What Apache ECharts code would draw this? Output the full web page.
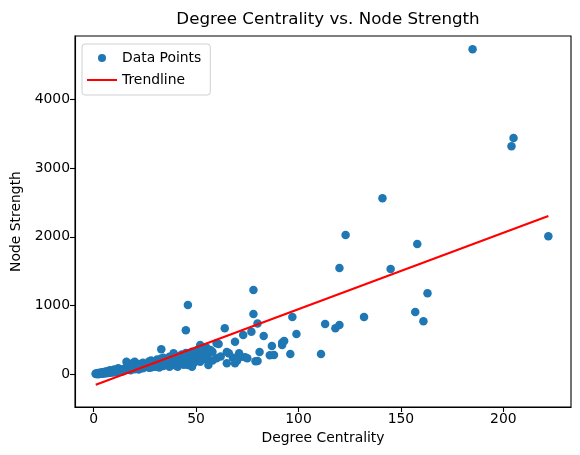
<!DOCTYPE html>
<html>
<head>
<meta charset="utf-8">
<script src="https://cdn.jsdelivr.net/npm/echarts@6/dist/echarts.min.js"></script>
<style>
  html, body { margin: 0; padding: 0; background: #fff; }
  #main { width: 580px; height: 455px; }
</style>
</head>
<body>
<div id="main"></div>
<script>
// 散点数据: [度中心性, 节点强度]
const degreeCentrality = [
  1, 1, 2, 2, 2, 3, 3, 3, 4, 4, 4, 5, 5, 5, 6, 6, 6, 7, 7, 7, 8, 8, 8, 9, 9, 10, 10, 10, 11, 11, 12, 12, 12, 13, 13, 14, 14, 15, 15,
  16, 16, 17, 17, 18, 18, 19, 19, 20, 20, 21, 21, 22, 22, 23, 23, 24, 24, 25, 26, 26, 27, 27, 28, 28, 29, 29, 30, 30,
  31, 31, 32, 32, 33, 33, 34, 34, 35, 35, 36, 36, 37, 38, 38, 39, 39, 40, 40, 41, 41, 42, 42, 42, 43, 44, 44, 45, 45, 46, 46, 46, 47, 47, 48, 48, 49, 49, 50, 50,
  24, 28, 31, 34, 37, 40, 43, 45, 48, 51, 53, 55, 58, 22, 27, 33, 38, 44, 51, 55,
  52, 52, 53, 54, 56, 56, 57, 58, 60, 60, 61, 62, 64, 65, 65, 66, 68, 69, 69, 70, 71, 72, 73, 74, 75, 77, 78, 78, 79, 80, 80,
  81, 83, 86, 87, 88, 92, 92, 93, 96, 97, 99, 111, 113, 118, 120, 120, 123, 132,
  141, 145, 157, 158, 161, 163, 185, 204, 205, 222
];
const nodeStrength = [
  5, 12, 3, 18, 8, 10, 22, 5, 15, 30, 8, 20, 12, 35, 25, 40, 15, 30, 50, 18, 35, 22, 60, 45, 28, 40, 70, 30, 55, 35, 60, 45, 90, 50, 75, 65, 40, 80, 55,
  183, 100, 70, 120, 85, 60, 160, 100, 183, 75, 110, 90, 130, 70, 100, 140, 90, 120, 110, 111, 150, 160, 95, 130, 100, 160, 115, 140, 110,
  125, 180, 150, 100, 364, 170, 135, 120, 180, 140, 200, 150, 111, 220, 160, 305, 180, 250, 130, 111, 200, 233, 208, 160, 180, 260, 140, 640, 200, 1008, 135, 250, 208, 160, 111, 280, 208, 170, 300, 240,
  170, 200, 215, 240, 255, 270, 290, 310, 330, 360, 300, 390, 330, 150, 185, 230, 260, 230, 250, 220,
  426, 183, 350, 270, 305, 135, 353, 200, 451, 233, 440, 260, 669, 324, 160, 305, 240, 475, 160, 198, 305, 256, 572, 247, 233, 620, 1226, 877, 189, 741, 193,
  324, 557, 276, 412, 281, 426, 460, 484, 295, 833, 586, 295, 732, 669, 717, 1546, 2026, 833,
  2560, 1532, 906, 1895, 771, 1178, 4727, 3316, 3437, 2007
];

// 趋势线 (线性拟合) 系数
const trendSlope = 11.1;
const trendIntercept = -162;

// 刻度
const xTicks = [0, 50, 100, 150, 200];
const yTicks = [0, 1000, 2000, 3000, 4000];

const points = degreeCentrality.map((x, i) => [x, nodeStrength[i]]);
const xMin = Math.min(...degreeCentrality);
const xMax = Math.max(...degreeCentrality);
const trendLine = [xMin, xMax].map(x => [x, trendSlope * x + trendIntercept]);

const FONT = 'DejaVu Sans';

const chart = echarts.init(document.getElementById('main'));

const option = {
  animation: false,
  backgroundColor: '#ffffff',
  textStyle: { fontFamily: FONT },
  title: {
    text: 'Degree Centrality vs. Node Strength',
    left: 323,
    top: 6,
    textAlign: 'center',
    textStyle: { fontFamily: FONT, fontSize: 16.7, fontWeight: 'normal', color: '#000' }
  },
  legend: {
    orient: 'vertical',
    left: 82,
    top: 44,
    padding: [3, 9, 4, 5],
    itemGap: 0,
    itemWidth: 30,
    itemHeight: 8,
    itemTextGap: 10,
    borderColor: '#d0d0d0',
    borderWidth: 1,
    borderRadius: 3,
    backgroundColor: 'rgba(255,255,255,0.8)',
    textStyle: { fontFamily: FONT, fontSize: 13.9, color: '#000', lineHeight: 22 },
    data: [
      { name: 'Data Points', icon: 'circle' },
      { name: 'Trendline', icon: 'path://M0,0 h30 v2 h-30 z' }
    ]
  },
  grid: {
    left: 75,
    right: 9,
    top: 36,
    bottom: 48,
    show: true,
    borderColor: '#000',
    borderWidth: 1.1
  },
  xAxis: {
    type: 'value',
    min: -9.13,
    max: 233.06,
    name: 'Degree Centrality',
    nameLocation: 'middle',
    nameGap: 24,
    nameTextStyle: { fontFamily: FONT, fontSize: 13.9, color: '#000' },
    axisLine: { show: true, onZero: false, lineStyle: { color: '#000', width: 1.1 } },
    axisTick: { show: true, customValues: xTicks, length: 5, lineStyle: { color: '#000', width: 1.1 } },
    axisLabel: { customValues: xTicks, fontFamily: FONT, fontSize: 13.9, color: '#000', margin: 5 },
    splitLine: { show: false }
  },
  yAxis: {
    type: 'value',
    min: -475,
    max: 4921,
    name: 'Node Strength',
    nameLocation: 'middle',
    nameGap: 52,
    nameTextStyle: { fontFamily: FONT, fontSize: 13.9, color: '#000' },
    axisLine: { show: true, onZero: false, lineStyle: { color: '#000', width: 1.1 } },
    axisTick: { show: true, customValues: yTicks, length: 5, lineStyle: { color: '#000', width: 1.1 } },
    axisLabel: {
      customValues: yTicks,
      formatter: v => String(v),
      fontFamily: FONT, fontSize: 13.9, color: '#000', margin: 5
    },
    splitLine: { show: false }
  },
  series: [
    {
      name: 'Data Points',
      type: 'scatter',
      data: points,
      symbolSize: 8.5,
      itemStyle: { color: '#1f77b4', opacity: 1 }
    },
    {
      name: 'Trendline',
      type: 'line',
      data: trendLine,
      symbol: 'none',
      showSymbol: false,
      lineStyle: { color: '#ff0000', width: 2.1 },
      itemStyle: { color: '#ff0000' }
    }
  ]
};

chart.setOption(option);
</script>
</body>
</html>
